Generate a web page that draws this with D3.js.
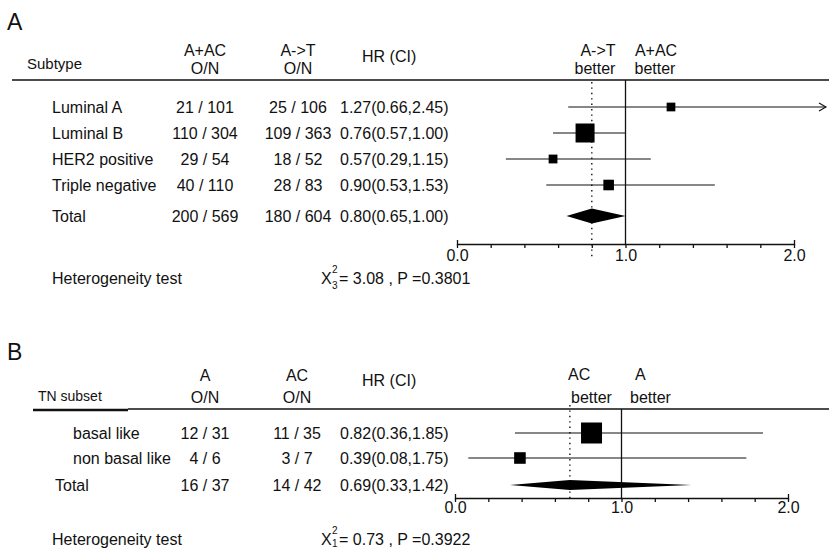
<!DOCTYPE html>
<html><head><meta charset="utf-8">
<script src="https://cdn.jsdelivr.net/npm/d3@7"></script>
<style>
body{margin:0;background:#fff}
svg{display:block}
text{font-family:"Liberation Sans",Arial,Helvetica,sans-serif;fill:#111}
</style>
</head><body>
<svg id="chart" width="829" height="549"></svg>
<script>
// ---------- Panel A data ----------
const subtypesA = ["Luminal A", "Luminal B", "HER2 positive", "Triple negative"];
const eventsA_AAC = [21, 110, 29, 40];
const totalA_AAC  = [101, 304, 54, 110];
const eventsA_AT  = [25, 109, 18, 28];
const totalA_AT   = [106, 363, 52, 83];
const hrA    = [1.27, 0.76, 0.57, 0.90];
const lowerA = [0.66, 0.57, 0.29, 0.53];
const upperA = [2.45, 1.00, 1.15, 1.53];
const overallA_AAC = [200, 569];
const overallA_AT  = [180, 604];
const overallHrA   = [0.80, 0.65, 1.00]; // HR, lower, upper
const hetA = {chi: "3.08", df: "3", p: "0.3801"};

// ---------- Panel B data ----------
const subsetsB = ["basal like", "non basal like"];
const eventsB_A  = [12, 4];
const totalB_A   = [31, 6];
const eventsB_AC = [11, 3];
const totalB_AC  = [35, 7];
const hrB    = [0.82, 0.39];
const lowerB = [0.36, 0.08];
const upperB = [1.85, 1.75];
const overallB_A  = [16, 37];
const overallB_AC = [14, 42];
const overallHrB  = [0.69, 0.33, 1.42];
const hetB = {chi: "0.73", df: "1", p: "0.3922"};

const axisTicks = d3.range(0, 2.0001, 0.2);
const axisLabels = [0, 1, 2];

const svg = d3.select("#chart");
const W = 829;
const fmt = d3.format(".2f");

function txt(g, x, y, s, opt = {}) {
  return g.append("text").attr("x", x).attr("y", y)
    .attr("font-size", opt.size || 16)
    .attr("text-anchor", opt.anchor || "start")
    .text(s);
}

function drawAxis(g, x, y, pad) {
  const ax = d3.axisBottom(x)
    .tickValues(axisTicks)
    .tickSize(4)
    .tickSizeOuter(-4)
    .tickPadding(pad)
    .tickFormat(d => axisLabels.some(v => Math.abs(v - d) < 1e-9) ? d3.format(".1f")(d) : "");
  const a = g.append("g").attr("transform", `translate(0,${y})`).call(ax);
  a.attr("font-family", null).attr("font-size", null);
  a.selectAll("path,line").attr("stroke", "#111").attr("stroke-width", 1.3);
  a.selectAll("text").attr("font-size", 16).attr("fill", "#111");
}

function drawRows(g, o) {
  const x = o.x;
  const n = o.names.length;
  const size = d3.scaleSqrt().domain([0, d3.max(o.e1.map((d, i) => d + o.e2[i]))]).range([0, o.maxSize]);
  const xMaxDraw = W - 3;
  for (let i = 0; i < n; i++) {
    const y = o.rowY(i);
    txt(g, o.nameX, y + 6, o.names[i]);
    txt(g, o.c1X, y + 6, `${o.e1[i]} / ${o.n1[i]}`, {anchor: "middle"});
    txt(g, o.c2X, y + 6, `${o.e2[i]} / ${o.n2[i]}`, {anchor: "middle"});
    txt(g, o.hrX, y + 6, `${fmt(o.hr[i])}(${fmt(o.lo[i])},${fmt(o.hi[i])})`);
    const x1 = x(o.lo[i]);
    const rawX2 = x(o.hi[i]);
    const x2 = Math.min(rawX2, xMaxDraw);
    g.append("line").attr("x1", x1).attr("x2", x2).attr("y1", y).attr("y2", y)
      .attr("stroke", "#111").attr("stroke-width", 1.2);
    if (rawX2 > xMaxDraw) {
      g.append("path").attr("d", `M${x2 - 7},${y - 4}L${x2},${y}L${x2 - 7},${y + 4}`)
        .attr("fill", "none").attr("stroke", "#111").attr("stroke-width", 1.1);
    }
    const s = size(o.e1[i] + o.e2[i]);
    g.append("rect").attr("x", x(o.hr[i]) - s / 2).attr("y", y - s / 2)
      .attr("width", s).attr("height", s).attr("fill", "#000");
  }
  // total row
  const ty = o.totalY;
  txt(g, o.totalNameX, ty + 6, "Total");
  txt(g, o.c1X, ty + 6, `${o.t1[0]} / ${o.t1[1]}`, {anchor: "middle"});
  txt(g, o.c2X, ty + 6, `${o.t2[0]} / ${o.t2[1]}`, {anchor: "middle"});
  txt(g, o.hrX, ty + 6, `${fmt(o.thr[0])}(${fmt(o.thr[1])},${fmt(o.thr[2])})`);
  const h = o.diamondH / 2;
  g.append("path")
    .attr("d", `M${x(o.thr[1])},${ty}L${x(o.thr[0])},${ty - h}L${x(o.thr[2])},${ty}L${x(o.thr[0])},${ty + h}Z`)
    .attr("fill", "#000");
}

function drawHet(g, y, het, subDy) {
  txt(g, 52, y, "Heterogeneity test");
  txt(g, 321, y, "X");
  txt(g, 332, y - 11, "2", {size: 10});
  txt(g, 332, y + subDy, het.df, {size: 10});
  txt(g, 339, y, `= ${het.chi} , P =${het.p}`);
}

// ================= PANEL A =================
(function () {
  const g = svg.append("g");
  const x = d3.scaleLinear().domain([0, 2]).range([457, 794]);
  txt(g, 7, 30, "A", {size: 23});
  txt(g, 27, 69, "Subtype", {size: 15});
  txt(g, 205, 56, "A+AC", {anchor: "middle"});
  txt(g, 205, 74, "O/N", {anchor: "middle"});
  txt(g, 298, 56, "A->T", {anchor: "middle"});
  txt(g, 298, 74, "O/N", {anchor: "middle"});
  txt(g, 362, 62, "HR (CI)");
  txt(g, 598, 56, "A->T", {anchor: "middle"});
  txt(g, 595, 74, "better", {anchor: "middle"});
  txt(g, 656, 56, "A+AC", {anchor: "middle"});
  txt(g, 655, 74, "better", {anchor: "middle"});
  g.append("line").attr("x1", 12).attr("x2", W).attr("y1", 80).attr("y2", 80)
    .attr("stroke", "#111").attr("stroke-width", 1.6);
  const axisY = 244;
  // reference lines
  g.append("line").attr("x1", x(1)).attr("x2", x(1)).attr("y1", 80).attr("y2", axisY)
    .attr("stroke", "#111").attr("stroke-width", 1.3);
  g.append("line").attr("x1", x(overallHrA[0])).attr("x2", x(overallHrA[0])).attr("y1", 82).attr("y2", 257)
    .attr("stroke", "#111").attr("stroke-width", 1.4).attr("stroke-dasharray", "1.4,4");
  const rowY = d3.scaleLinear().domain([0, 3]).range([107, 185]);
  drawRows(g, {x, names: subtypesA, e1: eventsA_AAC, n1: totalA_AAC, e2: eventsA_AT, n2: totalA_AT,
    hr: hrA, lo: lowerA, hi: upperA, t1: overallA_AAC, t2: overallA_AT, thr: overallHrA,
    rowY, totalY: 216, nameX: 52, totalNameX: 52, c1X: 205, c2X: 298, hrX: 340, maxSize: 19, diamondH: 15});
  drawAxis(g, x, axisY, 2);
  drawHet(g, 284, hetA, 5);
})();

// ================= PANEL B =================
(function () {
  const g = svg.append("g");
  const x = d3.scaleLinear().domain([0, 2]).range([455, 788]);
  txt(g, 7, 360, "B", {size: 23});
  txt(g, 38, 401, "TN subset", {size: 14});
  txt(g, 205, 381, "A", {anchor: "middle"});
  txt(g, 205, 403, "O/N", {anchor: "middle"});
  txt(g, 297, 381, "AC", {anchor: "middle"});
  txt(g, 297, 403, "O/N", {anchor: "middle"});
  txt(g, 362, 386, "HR (CI)");
  txt(g, 568, 380, "AC");
  txt(g, 571, 403, "better");
  txt(g, 635, 380, "A");
  txt(g, 630, 403, "better");
  g.append("line").attr("x1", 33).attr("x2", 128).attr("y1", 410).attr("y2", 410)
    .attr("stroke", "#111").attr("stroke-width", 2.4);
  g.append("line").attr("x1", 128).attr("x2", W).attr("y1", 409).attr("y2", 409)
    .attr("stroke", "#111").attr("stroke-width", 1.3);
  const axisY = 498;
  g.append("line").attr("x1", x(1)).attr("x2", x(1)).attr("y1", 409).attr("y2", axisY)
    .attr("stroke", "#111").attr("stroke-width", 1.3);
  g.append("line").attr("x1", x(overallHrB[0])).attr("x2", x(overallHrB[0])).attr("y1", 405).attr("y2", 500)
    .attr("stroke", "#111").attr("stroke-width", 1.4).attr("stroke-dasharray", "1.4,4");
  const rowY = d3.scaleLinear().domain([0, 1]).range([433, 458]);
  drawRows(g, {x, names: subsetsB, e1: eventsB_A, n1: totalB_A, e2: eventsB_AC, n2: totalB_AC,
    hr: hrB, lo: lowerB, hi: upperB, t1: overallB_A, t2: overallB_AC, thr: overallHrB,
    rowY, totalY: 485, nameX: 73, totalNameX: 55, c1X: 205, c2X: 297, hrX: 340, maxSize: 21, diamondH: 10});
  drawAxis(g, x, axisY, 0);
  drawHet(g, 545, hetB, 2);
})();
</script>
</body></html>
